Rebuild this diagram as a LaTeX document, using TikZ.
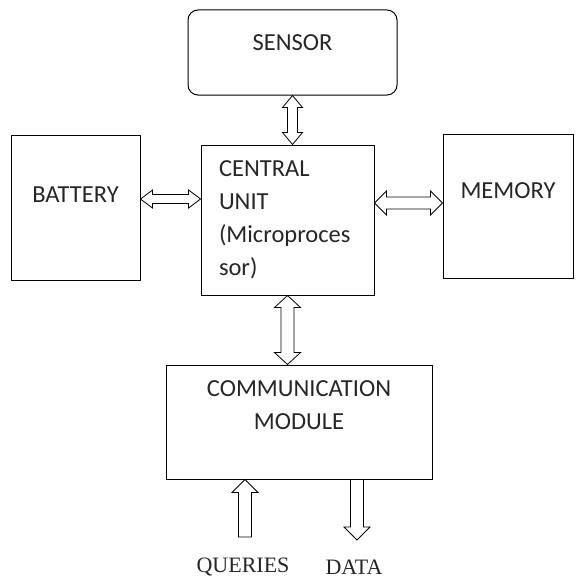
\documentclass[tikz,border=0pt]{standalone}
\usepackage{fontspec}
\setmainfont{Carlito}
\newfontfamily\serifa{Liberation Serif}
\usetikzlibrary{calc}
\begin{document}
\begin{tikzpicture}[x=1pt,y=-1pt,
    blocco/.style={draw, line width=1pt, font=\fontsize{24.5}{33}\selectfont, text=black!85},
    frecciadoppia/.style={draw, fill=white, line width=0.8pt, to path={
        let \p1=(\tikztostart), \p2=(\tikztotarget),
            \n1={atan2(\y2-\y1,\x2-\x1)}, \n2={veclen(\x2-\x1,\y2-\y1)} in
        {[shift={(\p1)}, rotate=\n1]
         (0pt,0pt) -- (12pt,2*#1pt) -- (12pt,#1pt) -- (\n2-12pt,#1pt) -- (\n2-12pt,2*#1pt)
         -- (\n2,0pt) -- (\n2-12pt,-2*#1pt) -- (\n2-12pt,-#1pt) -- (12pt,-#1pt)
         -- (12pt,-2*#1pt) -- cycle}}},
    frecciadoppia/.default=6,
    freccia/.style={draw, fill=white, line width=0.8pt, to path={
        let \p1=(\tikztostart), \p2=(\tikztotarget),
            \n1={atan2(\y2-\y1,\x2-\x1)}, \n2={veclen(\x2-\x1,\y2-\y1)} in
        {[shift={(\p1)}, rotate=\n1]
         (0pt,#1pt) -- (\n2-13pt,#1pt) -- (\n2-13pt,2*#1pt) -- (\n2,0pt)
         -- (\n2-13pt,-2*#1pt) -- (\n2-13pt,-#1pt) -- (0pt,-#1pt) -- cycle}}},
    freccia/.default=6.5]
\useasboundingbox (0,0) rectangle (576,578);

% Blocchi
\node[blocco, rounded corners=10pt, minimum width=209pt, minimum height=85pt, text depth=20pt]
    (sensor) at (292.5,52.5) {SENSOR};
\node[blocco, minimum width=173pt, minimum height=150pt, text width=137pt, inner xsep=18pt, align=left]
    (cu) at (287.5,220) {CENTRAL\\UNIT\\(Microproces\\sor)};
\node[blocco, minimum width=129pt, minimum height=145pt, text depth=26pt]
    (battery) at (75.5,207.5) {BATTERY};
\node[blocco, minimum width=130pt, minimum height=144pt, text depth=30pt]
    (memory) at (508,206) {MEMORY};
\node[blocco, minimum width=266pt, minimum height=114pt, align=center, text depth=34pt]
    (comm) at (299,422) {COMMUNICATION\\MODULE};

% Ingressi e uscite
\node[font=\serifa\fontsize{22}{26}\selectfont, text=black!85] (queries) at (243,567) {QUERIES};
\node[font=\serifa\fontsize{22}{26}\selectfont, text=black!85] (data) at (354,567) {DATA};
\coordinate (qcoda) at (245,537);
\coordinate (dpunta) at (357,540);

% Frecce
\draw[frecciadoppia=5] (sensor.south) to (sensor.south |- cu.north);
\draw[frecciadoppia=4.5] ([yshift=8.5pt]battery.east) to ([yshift=8.5pt]battery.east -| cu.west);
\draw[frecciadoppia] ([yshift=17pt]cu.east) to ([yshift=17pt]cu.east -| memory.west);
\draw[frecciadoppia=6.5] (cu.south) to (cu.south |- comm.north);
\draw[freccia] (qcoda) to (qcoda |- comm.south);
\draw[freccia] (dpunta |- comm.south) to (dpunta);

\end{tikzpicture}
\end{document}
